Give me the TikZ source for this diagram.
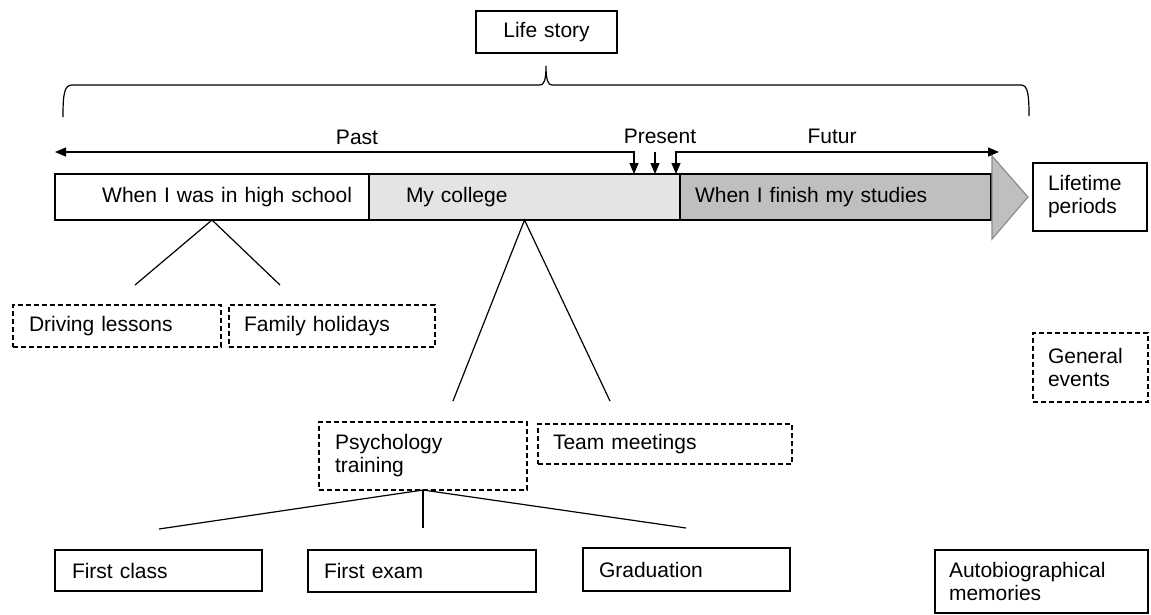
\documentclass[tikz,border=0pt]{standalone}
\usepackage{fontspec}
\setmainfont{Liberation Sans}
\usepackage{tikz}
\usetikzlibrary{arrows.meta,positioning,calc}
\usepackage{xcolor}
\definecolor{lsnow}{RGB}{228,228,228}
\definecolor{lsfuture}{RGB}{191,191,191}
\definecolor{lsedge}{RGB}{140,140,140}
\tikzstyle{periodbox} = [rectangle, draw, line width=1.3pt, anchor=north west, inner ysep=0pt, outer sep=0pt, align=left]
\tikzstyle{memorybox} = [periodbox]
\tikzstyle{eventbox} = [periodbox, dash pattern=on 5pt off 3pt]
\tikzstyle{timearrow} = [line width=1.3pt, >={Triangle[length=11pt,width=9pt]}]
\tikzstyle{link} = [line width=1.2pt]
\tikzstyle{timelabel} = [anchor=base, inner sep=0pt]

\begin{document}
\begin{tikzpicture}[x=1pt, y=-1pt, font=\fontsize{21}{23}\selectfont]
\useasboundingbox (0,0) rectangle (1151,614);

% Life story and brace
\node (life) [periodbox, align=center, inner xsep=0pt, text width=141pt, minimum height=42pt] at (476,11) {Life story};
\draw[line width=1.2pt] (63,117) .. controls (63,95) and (64,85) .. (72,85) -- (540,85)
  .. controls (544,85) and (546,80) .. (546,66) .. controls (546,80) and (548,85) .. (552,85)
  -- (1021,85) .. controls (1028,85) and (1029,95) .. (1029,116);

% Lifetime periods
\node (school) [periodbox, align=right, inner xsep=17pt, text width=280pt, minimum height=46pt] at (55,174) {When I was in high school};
\node (college) [periodbox, fill=lsnow, inner xsep=37pt, text width=237pt, minimum height=46pt, right=0pt of school] {My college};
\node (finish) [periodbox, fill=lsfuture, inner xsep=15pt, text width=281pt, minimum height=46pt, right=0pt of college] {When I finish my studies};
\draw[fill=lsfuture, draw=lsedge, line width=1.2pt] (finish.east) ++(1,-41) -- ++(36,41) -- ++(-36,42) -- cycle;

% Time line
\coordinate (pastend) at (55,152);
\coordinate (futend) at (999,152);
\coordinate (now1) at (634,174);
\coordinate (now2) at (655,174);
\coordinate (now3) at (676,174);
\draw[timearrow, <->] (pastend) -| (now1);
\draw[timearrow, ->] (now2 |- pastend) -- (now2);
\draw[timearrow, <->] (now3) |- (futend);
\node (past) [timelabel] at (357,144) {Past};
\node (present) [timelabel] at (660,143) {Present};
\node (futur) [timelabel] at (832,143) {Futur};

% General events
\node (driving) [eventbox, inner xsep=16pt, text width=176pt, minimum height=42pt] at (13,305) {Driving lessons};
\node (family) [eventbox, inner xsep=15pt, text width=176pt, minimum height=42pt] at (229,305) {Family holidays};
\node (psych) [eventbox, inner xsep=16pt, text width=176pt, minimum height=68pt] at (319,422) {Psychology\\training};
\node (team) [eventbox, inner xsep=15pt, text width=224pt, minimum height=40pt] at (538,424) {Team meetings};
\coordinate (hs1) at (135,285);
\coordinate (hs2) at (280,285);
\coordinate (co1) at (453,401);
\coordinate (co2) at (610,401);
\draw[link] (hs1) -- (school.south) -- (hs2);
\draw[link] (co1) -- (college.south) -- (co2);

% Autobiographical memories
\node (firstclass) [memorybox, inner xsep=17pt, text width=173pt, minimum height=41pt] at (55,550) {First class};
\node (firstexam) [memorybox, inner xsep=16pt, text width=196pt, minimum height=42pt] at (308,550) {First exam};
\node (graduation) [memorybox, inner xsep=16pt, text width=175pt, minimum height=43pt] at (583,548) {Graduation};
\coordinate (ps1) at (159,529);
\coordinate (ps2) at (423,528);
\coordinate (ps3) at (686,528);
\draw[link] (ps1) -- (psych.south) -- (ps3);
\draw[link] (psych.south) -- (ps2);

% Legend
\node (lifetime) [periodbox, inner xsep=15pt, text width=84pt, minimum height=68pt] at (1033,163) {Lifetime\\periods};
\node (general) [eventbox, inner xsep=15pt, text width=85pt, minimum height=69pt] at (1033,333) {General\\events};
\node (autobio) [memorybox, inner xsep=14pt, text width=185pt, minimum height=63pt] at (935,550) {Autobiographical\\memories};
\end{tikzpicture}
\end{document}
